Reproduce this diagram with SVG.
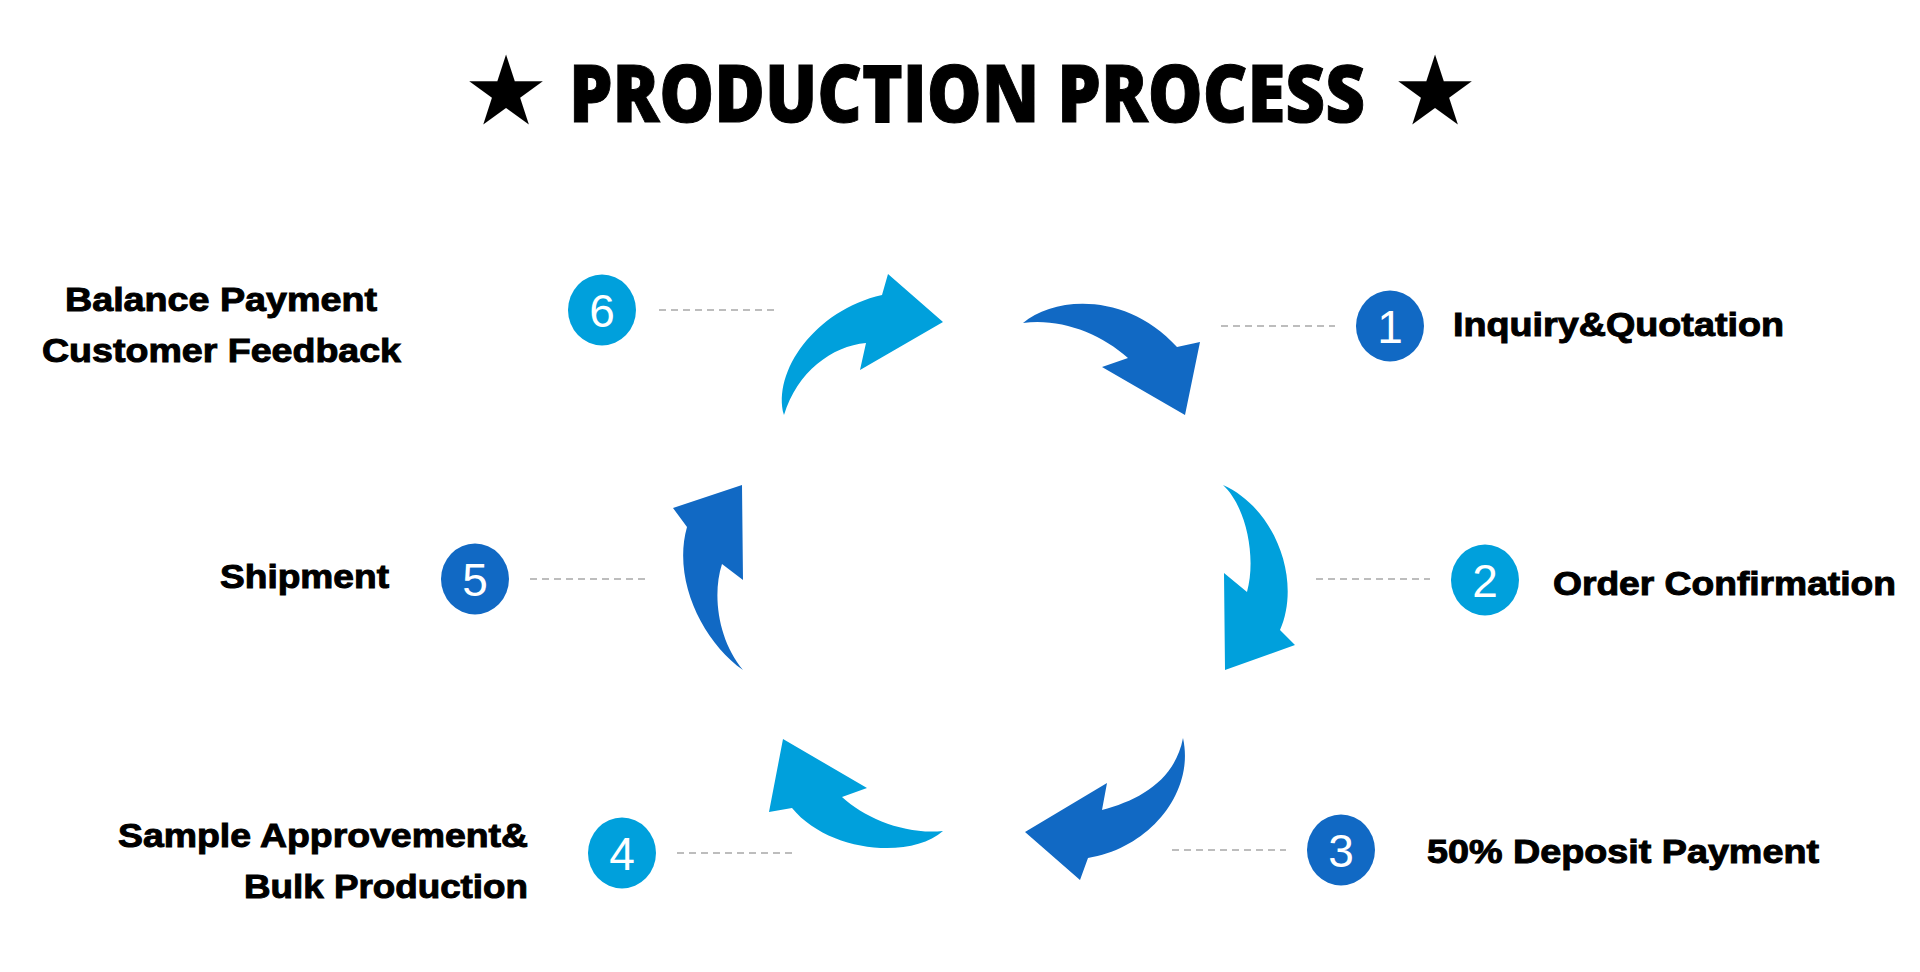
<svg xmlns="http://www.w3.org/2000/svg" width="1920" height="972" viewBox="0 0 1920 972">
<style>
.title{font-family:"Open Sans","Noto Sans",sans-serif;font-weight:800;font-size:80px;fill:#000;stroke:#000;stroke-width:1}
.star{font-family:"DejaVu Sans",sans-serif;font-size:96px;fill:#000;stroke:none}
.lbl{font-family:"Liberation Sans",Arial,sans-serif;font-weight:700;font-size:34px;fill:#000;stroke:#000;stroke-width:1}
.num{font-family:"Liberation Sans",Arial,sans-serif;font-size:46px;fill:#fff;text-anchor:middle}
.lb{fill:#00A0DC}
.db{fill:#1169C4}
.lead{stroke:#bdbdbd;stroke-width:2;stroke-dasharray:7 5;fill:none}
</style>
<rect width="1920" height="972" fill="#fff"/>
<g id="title">
<text class="title" y="122"><tspan class="star" x="463" y="124">★</tspan><tspan x="569" y="122" textLength="796" lengthAdjust="spacingAndGlyphs">PRODUCTION PROCESS</tspan><tspan class="star" x="1392" y="124">★</tspan></text>
</g>
<g id="connectors">
<path class="lb" d="M784,415 C772,372 815,310 882,295 L888,274 L943,322 L860,370 L866,343 C832,346 797,372 784,415 Z"/>
<path class="db" d="M1023,323 C1055,296 1127,292 1177,347 L1200,342 L1185,415 L1102,367 L1128,358 C1100,333 1060,318 1023,323 Z"/>
<path class="lb" d="M1223,485 C1275,508 1302,580 1280,630 L1295,645 L1225,670 L1224,573 L1247,592 C1257,555 1245,505 1223,485 Z"/>
<path class="db" d="M1183,738 C1195,792 1150,848 1088,858 L1080,880 L1025,832 L1107,783 L1102,810 C1140,800 1175,780 1183,738 Z"/>
<path class="lb" d="M943,831 C910,860 828,852 792,808 L769,812 L783,739 L867,788 L842,797 C865,818 905,835 943,831 Z"/>
<path class="db" d="M743,670 C703,642 672,580 687,527 L673,508 L742,485 L743,580 L722,564 C712,595 718,640 743,670 Z"/>
<line class="lead" x1="659" y1="310" x2="774" y2="310"/>
<line class="lead" x1="1221" y1="326" x2="1335" y2="326"/>
<line class="lead" x1="1316" y1="579" x2="1430" y2="579"/>
<line class="lead" x1="1172" y1="850" x2="1286" y2="850"/>
<line class="lead" x1="677" y1="853" x2="792" y2="853"/>
<line class="lead" x1="530" y1="579" x2="645" y2="579"/>
</g>
<g id="step1">
<ellipse class="db" cx="1390" cy="326" rx="34" ry="35.5"/>
<text class="num" x="1390" y="343">1</text>
<text class="lbl" x="1453" y="336" textLength="331" lengthAdjust="spacingAndGlyphs">Inquiry&amp;Quotation</text>
</g>
<g id="step2">
<ellipse class="lb" cx="1485" cy="580" rx="34" ry="35.5"/>
<text class="num" x="1485" y="597">2</text>
<text class="lbl" x="1553" y="595" textLength="343" lengthAdjust="spacingAndGlyphs">Order Confirmation</text>
</g>
<g id="step3">
<ellipse class="db" cx="1341" cy="850" rx="34" ry="35.5"/>
<text class="num" x="1341" y="867">3</text>
<text class="lbl" x="1427" y="863" textLength="392" lengthAdjust="spacingAndGlyphs">50% Deposit Payment</text>
</g>
<g id="step4">
<ellipse class="lb" cx="622" cy="853" rx="34" ry="35.5"/>
<text class="num" x="622" y="870">4</text>
<text class="lbl" x="118" y="847" textLength="410" lengthAdjust="spacingAndGlyphs">Sample Approvement&amp;</text>
<text class="lbl" x="244" y="898" textLength="284" lengthAdjust="spacingAndGlyphs">Bulk Production</text>
</g>
<g id="step5">
<ellipse class="db" cx="475" cy="579" rx="34" ry="35.5"/>
<text class="num" x="475" y="596">5</text>
<text class="lbl" x="220" y="588" textLength="169" lengthAdjust="spacingAndGlyphs">Shipment</text>
</g>
<g id="step6">
<ellipse class="lb" cx="602" cy="310" rx="34" ry="35.5"/>
<text class="num" x="602" y="327">6</text>
<text class="lbl" x="65" y="311" textLength="312" lengthAdjust="spacingAndGlyphs">Balance Payment</text>
<text class="lbl" x="42" y="362" textLength="359" lengthAdjust="spacingAndGlyphs">Customer Feedback</text>
</g>
</svg>
